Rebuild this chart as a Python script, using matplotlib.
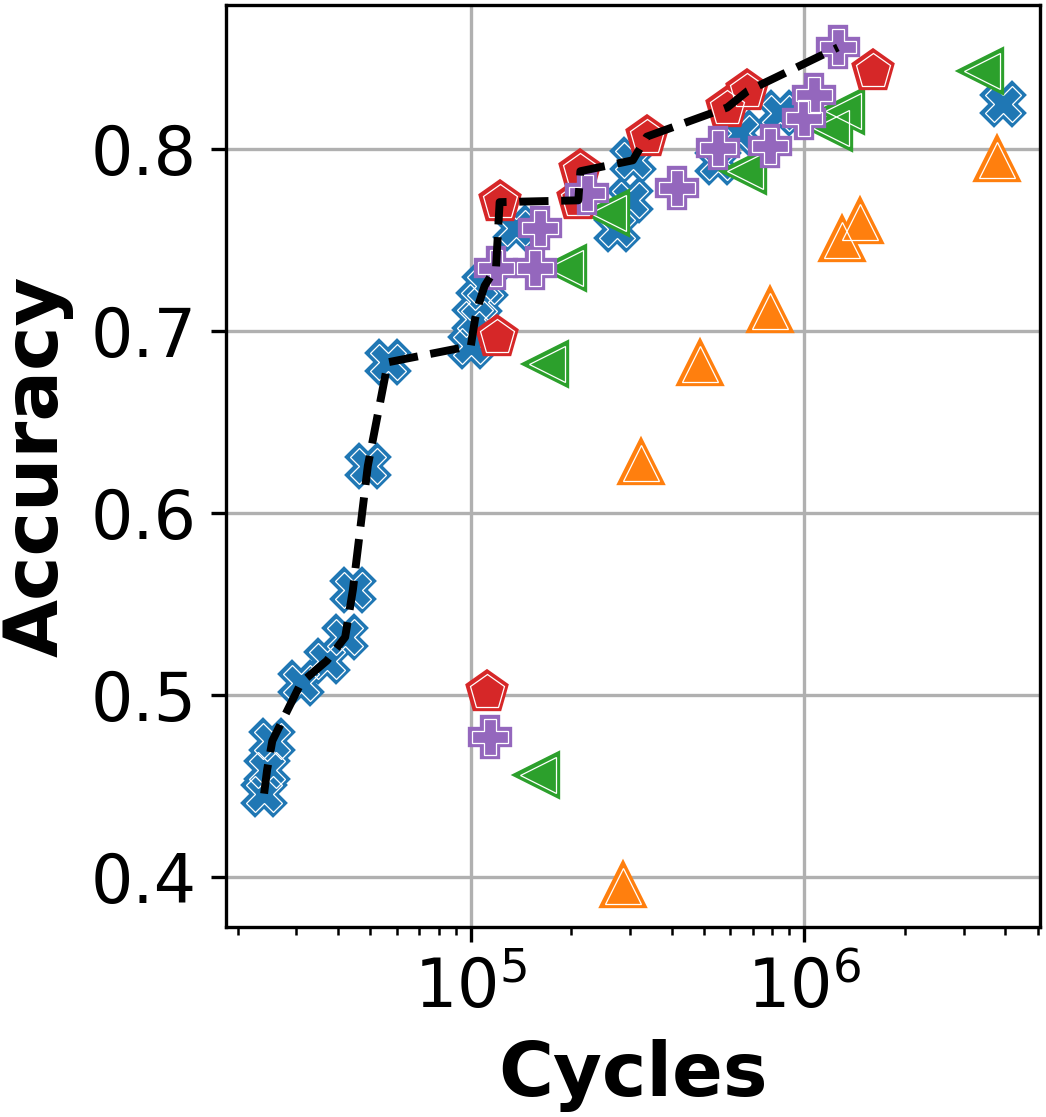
"""Scatter of accuracy vs. cycles with the Pareto front (dashed)."""

import matplotlib

matplotlib.use("Agg")
import matplotlib.pyplot as plt

# values
BLUE_X = [2.40e4, 2.45e4, 2.54e4, 3.1e4, 3.7e4, 4.2e4, 4.43e4, 4.91e4, 5.64e4,
          1.0e5, 1.03e5, 1.06e5, 1.1e5, 1.37e5, 2.74e5, 3.0e5, 3.06e5,
          5.5e5, 6.43e5, 8.47e5, 3.93e6]
BLUE_Y = [0.446, 0.459, 0.475, 0.507, 0.519, 0.532, 0.558, 0.626, 0.683,
          0.692, 0.707, 0.716, 0.725, 0.757, 0.756, 0.772, 0.794,
          0.793, 0.809, 0.820, 0.825]

ORANGE_X = [2.86e5, 3.24e5, 4.87e5, 7.9e5, 1.3e6, 1.47e6, 3.78e6]
ORANGE_Y = [0.395, 0.6275, 0.682, 0.711, 0.750, 0.760, 0.794]

GREEN_X = [1.59e5, 1.69e5, 1.91e5, 2.57e5, 6.65e5, 1.2e6, 1.31e6, 3.4e6]
GREEN_Y = [0.456, 0.682, 0.735, 0.765, 0.788, 0.812, 0.821, 0.843]

RED_X = [1.117e5, 1.2e5, 1.22e5, 2.10e5, 2.13e5, 3.37e5, 5.87e5, 6.75e5, 1.61e6]
RED_Y = [0.502, 0.697, 0.771, 0.772, 0.788, 0.807, 0.823, 0.832, 0.843]

PURPLE_X = [1.14e5, 1.19e5, 1.56e5, 1.61e5, 2.23e5, 4.16e5, 5.52e5, 7.9e5,
            1.0e6, 1.07e6, 1.26e6]
PURPLE_Y = [0.477, 0.735, 0.735, 0.757, 0.776, 0.779, 0.8005, 0.802,
            0.817, 0.830, 0.856]

SERIES = [
    (BLUE_X, BLUE_Y, "tab:blue", "X"),
    (ORANGE_X, ORANGE_Y, "tab:orange", "^"),
    (GREEN_X, GREEN_Y, "tab:green", "<"),
    (RED_X, RED_Y, "tab:red", "p"),
    (PURPLE_X, PURPLE_Y, "tab:purple", "P"),
]


def pareto_front(xs, ys):
    pts = sorted(zip(xs, ys))
    fx, fy = [], []
    best = -1.0
    for x, y in pts:
        if y > best:
            fx.append(x)
            fy.append(y)
            best = y
    return fx, fy


def main() -> None:
    fig = plt.figure(figsize=(1046 / 300, 1117 / 300), dpi=300)
    ax = fig.add_axes([0.216, 0.1701, 0.9938 - 0.216, 0.9958 - 0.1701])

    all_x, all_y = [], []
    for xs, ys, color, marker in SERIES:
        ax.plot(xs, ys, linestyle="none", marker=marker, markersize=8.8,
                markerfacecolor=color, markeredgecolor=color,
                markeredgewidth=2.0, zorder=3)
        ax.plot(xs, ys, linestyle="none", marker=marker, markersize=8.8,
                markerfacecolor="none", markeredgecolor="white",
                markeredgewidth=0.3, zorder=3)
        all_x += xs
        all_y += ys

    fx, fy = pareto_front(all_x, all_y)
    ax.plot(fx, fy, "--", color="black", linewidth=1.9, zorder=4)

    ax.set_xscale("log")
    ax.set_xlim(1.844e4, 5.07e6)
    ax.set_ylim(0.3727, 0.8795)
    ax.set_yticks([0.4, 0.5, 0.6, 0.7, 0.8])
    ax.tick_params(axis="both", which="major", labelsize=16)
    ax.grid(True, which="major", color="#b0b0b0", linewidth=0.8)
    ax.set_axisbelow(True)

    ax.set_xlabel("Cycles", fontsize=18, fontweight="bold")
    ax.set_ylabel("Accuracy", fontsize=18, fontweight="bold")

    fig.savefig("out.png", dpi=300)
    plt.close(fig)


if __name__ == "__main__":
    main()
